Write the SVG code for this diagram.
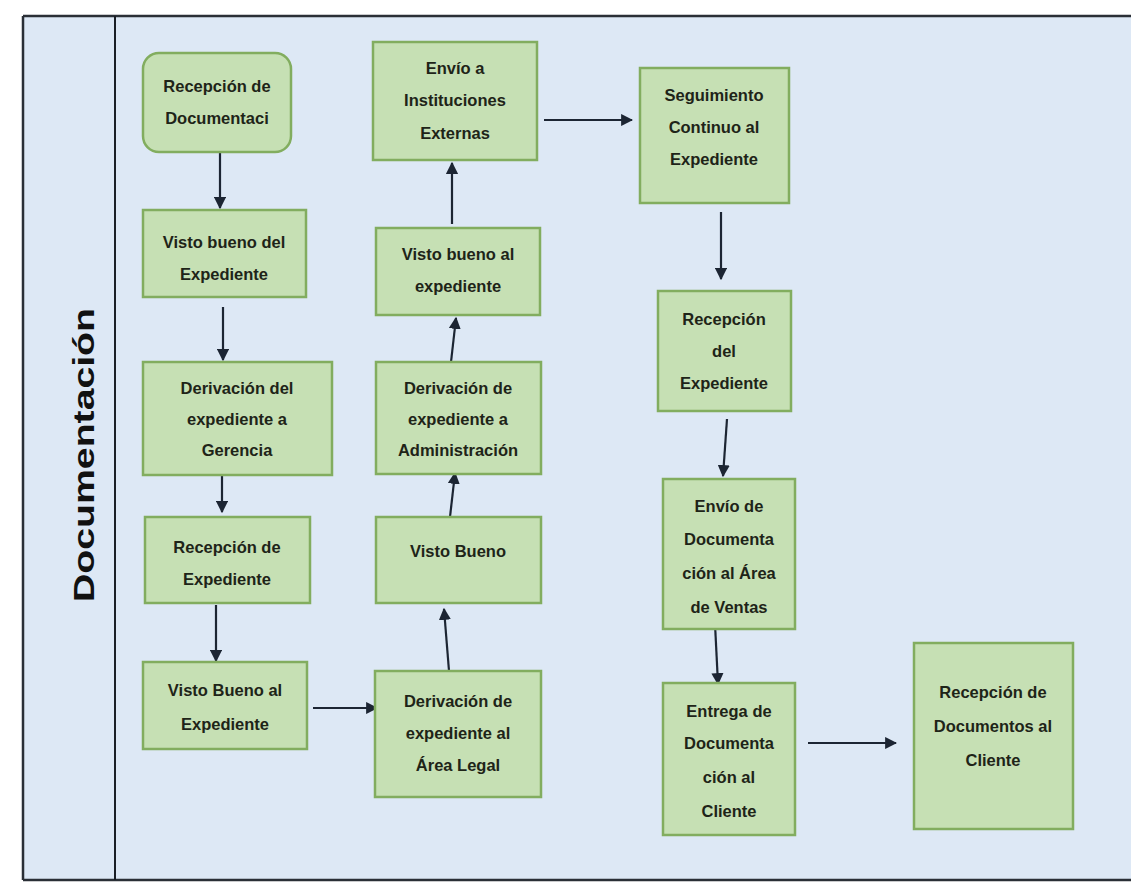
<svg xmlns="http://www.w3.org/2000/svg" width="1131" height="882" viewBox="0 0 1131 882">
<style>
.box{fill:#c6e0b4;stroke:#82ad5f;stroke-width:2.5}
.t{font-family:"Liberation Sans",Arial,sans-serif;font-weight:bold;font-size:16.5px;fill:#1e2418;text-anchor:middle}
.c{stroke:#1c2533;stroke-width:2.2;fill:none;marker-end:url(#ah)}
</style>
<defs>
<marker id="ah" viewBox="0 0 10 10" refX="9" refY="5" markerWidth="5.5" markerHeight="5.5" orient="auto" markerUnits="strokeWidth">
<path d="M0,0 L10,5 L0,10 z" fill="#1c2533"/>
</marker>
</defs>
<rect x="0" y="0" width="1131" height="882" fill="#ffffff"/>
<g id="lane">
<rect x="23" y="16" width="1108" height="864" fill="#dde8f5"/>
<line x1="23" y1="16" x2="1131" y2="16" stroke="#2a2f36" stroke-width="2.5"/>
<line x1="23" y1="16" x2="23" y2="880" stroke="#2a2f36" stroke-width="2.5"/>
<line x1="23" y1="880" x2="1131" y2="880" stroke="#2a2f36" stroke-width="2.5"/>
<line x1="115" y1="16" x2="115" y2="880" stroke="#1a1f26" stroke-width="2"/>
<text x="0" y="0" transform="translate(94,455) rotate(-90)" font-family="Liberation Sans,Arial,sans-serif" font-weight="bold" font-size="30" fill="#111" text-anchor="middle" textLength="294" lengthAdjust="spacingAndGlyphs">Documentación</text>
</g>
<g id="connectors">
<line class="c" x1="220" y1="153" x2="220" y2="208"/>
<line class="c" x1="223" y1="307" x2="223" y2="360"/>
<line class="c" x1="222" y1="463" x2="222" y2="512"/>
<line class="c" x1="216" y1="605" x2="216" y2="661"/>
<line class="c" x1="313" y1="708" x2="377" y2="708"/>
<line class="c" x1="449" y1="671" x2="444" y2="609"/>
<line class="c" x1="450" y1="517" x2="455" y2="473"/>
<line class="c" x1="451" y1="362" x2="456" y2="318"/>
<line class="c" x1="452" y1="224" x2="452" y2="163"/>
<line class="c" x1="544" y1="120" x2="632" y2="120"/>
<line class="c" x1="721" y1="212" x2="721" y2="279"/>
<line class="c" x1="727" y1="419" x2="723" y2="476"/>
<line class="c" x1="715" y1="624" x2="718" y2="684"/>
<line class="c" x1="808" y1="743" x2="896" y2="743"/>
</g>
<g id="n1"><rect class="box" x="143" y="53" width="148" height="99" rx="16"/><text class="t" x="217" y="92">Recepción de</text><text class="t" x="217" y="124">Documentaci</text></g>
<g id="n2"><rect class="box" x="143" y="210" width="163" height="87"/><text class="t" x="224" y="248">Visto bueno del</text><text class="t" x="224" y="280">Expediente</text></g>
<g id="n3"><rect class="box" x="143" y="362" width="189" height="113"/><text class="t" x="237" y="394">Derivación del</text><text class="t" x="237" y="425">expediente a</text><text class="t" x="237" y="456">Gerencia</text></g>
<g id="n4"><rect class="box" x="145" y="517" width="165" height="86"/><text class="t" x="227" y="553">Recepción de</text><text class="t" x="227" y="585">Expediente</text></g>
<g id="n5"><rect class="box" x="143" y="662" width="164" height="87"/><text class="t" x="225" y="696">Visto Bueno al</text><text class="t" x="225" y="730">Expediente</text></g>
<g id="n6"><rect class="box" x="375" y="671" width="166" height="126"/><text class="t" x="458" y="707">Derivación de</text><text class="t" x="458" y="739">expediente al</text><text class="t" x="458" y="771">Área Legal</text></g>
<g id="n7"><rect class="box" x="376" y="517" width="165" height="86"/><text class="t" x="458" y="557">Visto Bueno</text></g>
<g id="n8"><rect class="box" x="376" y="362" width="165" height="112"/><text class="t" x="458" y="394">Derivación de</text><text class="t" x="458" y="425">expediente a</text><text class="t" x="458" y="456">Administración</text></g>
<g id="n9"><rect class="box" x="376" y="228" width="164" height="87"/><text class="t" x="458" y="260">Visto bueno al</text><text class="t" x="458" y="292">expediente</text></g>
<g id="n10"><rect class="box" x="373" y="42" width="164" height="118"/><text class="t" x="455" y="74">Envío a</text><text class="t" x="455" y="106">Instituciones</text><text class="t" x="455" y="139">Externas</text></g>
<g id="n11"><rect class="box" x="640" y="68" width="149" height="135"/><text class="t" x="714" y="101">Seguimiento</text><text class="t" x="714" y="133">Continuo al</text><text class="t" x="714" y="165">Expediente</text></g>
<g id="n12"><rect class="box" x="658" y="291" width="133" height="120"/><text class="t" x="724" y="325">Recepción</text><text class="t" x="724" y="357">del</text><text class="t" x="724" y="389">Expediente</text></g>
<g id="n13"><rect class="box" x="663" y="479" width="132" height="150"/><text class="t" x="729" y="512">Envío de</text><text class="t" x="729" y="545">Documenta</text><text class="t" x="729" y="579">ción al Área</text><text class="t" x="729" y="613">de Ventas</text></g>
<g id="n14"><rect class="box" x="663" y="683" width="132" height="152"/><text class="t" x="729" y="717">Entrega de</text><text class="t" x="729" y="749">Documenta</text><text class="t" x="729" y="783">ción al</text><text class="t" x="729" y="817">Cliente</text></g>
<g id="n15"><rect class="box" x="914" y="643" width="159" height="186"/><text class="t" x="993" y="698">Recepción de</text><text class="t" x="993" y="732">Documentos al</text><text class="t" x="993" y="766">Cliente</text></g>
</svg>
